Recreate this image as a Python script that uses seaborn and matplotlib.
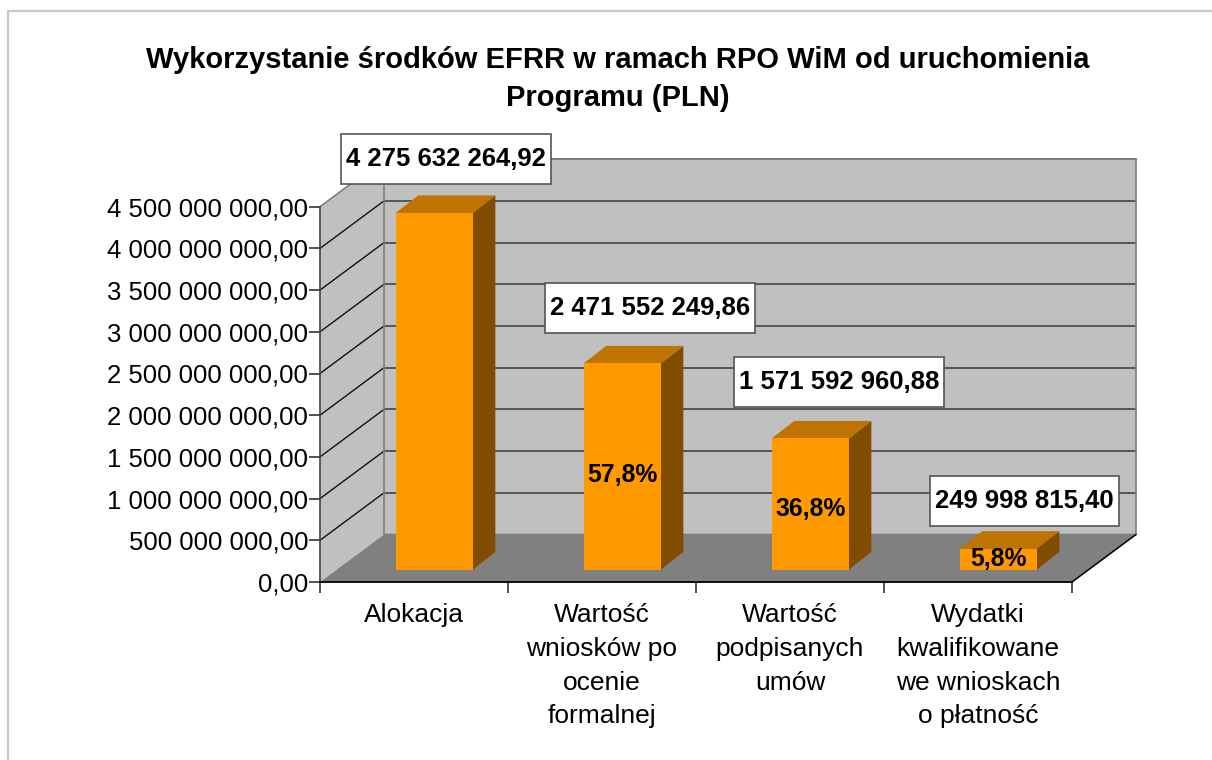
"""
Wykorzystanie srodkow EFRR - Excel style pseudo 3D column chart
"""

import matplotlib
matplotlib.use("Agg")
import matplotlib.pyplot as plt
from matplotlib.patches import Polygon, Rectangle
import seaborn as sns

# ── Data ─────────────────────────────────────────────────
CATEGORIES = ["Alokacja", "Wartość\nwniosków po\nocenie\nformalnej",
              "Wartość\npodpisanych\numów", "Wydatki\nkwalifikowane\nwe wnioskach\no płatność"]
VALUES = [4275632264.92, 2471552249.86, 1571592960.88, 249998815.40]
VALUE_LABELS = ["4 275 632 264,92", "2 471 552 249,86", "1 571 592 960,88", "249 998 815,40"]
PERCENT_LABELS = ["", "57,8%", "36,8%", "5,8%"]
YTICKS = [0, 500000000, 1000000000, 1500000000, 2000000000,
          2500000000, 3000000000, 3500000000, 4000000000, 4500000000]
YTICK_LABELS = ["0,00", "500 000 000,00", "1 000 000 000,00", "1 500 000 000,00",
                "2 000 000 000,00", "2 500 000 000,00", "3 000 000 000,00",
                "3 500 000 000,00", "4 000 000 000,00", "4 500 000 000,00"]
TITLE = "Wykorzystanie środków EFRR w ramach RPO WiM od uruchomienia\nProgramu (PLN)"

# ── Layout (pixels) ──────────────────────────────────────
W, H = 1212, 760
X0, X1, Y0, YTOP = 320, 1072, 582, 206.7
WALL_DX, WALL_DY = 64, 47.5
BAR_SHIFT_X, BAR_SHIFT_Y = 20.3, 12.5
BAR_DX, BAR_DY = 22.5, 17.5
BOX_SHIFT = [(11.5, -54), (28, -55), (29, -56), (26, -47.5)]
PCT_SHIFT = [0, 9, 5, 0]

ORANGE, ORANGE_SIDE, ORANGE_TOP = "#FF9900", "#804D00", "#BF7300"
WALL, FLOOR, EDGE, GRID = "#C0C0C0", "#808080", "#808080", "#3A3A3A"

sns.set_theme(style="white")
plt.rcParams["font.family"] = ["Liberation Sans", "DejaVu Sans"]

fig = plt.figure(figsize=(W / 100, H / 100), dpi=100, facecolor="white")


def px_axes(left, right, top, bottom):
    return fig.add_axes([left / W, (H - bottom) / H, (right - left) / W, (bottom - top) / H])


bg = fig.add_axes([0, 0, 1, 1], zorder=0)
ax = px_axes(X0, X1, YTOP, Y0)
ax.set_zorder(1)
bar_ax = px_axes(X0 + BAR_SHIFT_X, X1 + BAR_SHIFT_X, YTOP - BAR_SHIFT_Y, Y0 - BAR_SHIFT_Y)
bar_ax.set_zorder(2)
top = fig.add_axes([0, 0, 1, 1], zorder=3)
for a in (bg, top):
    a.set_xlim(0, W)
    a.set_ylim(H, 0)
    a.axis("off")

# ── Axis with ticks ──────────────────────────────────────
ax.patch.set_alpha(0)
ax.set_xlim(-0.5, 3.5)
ax.set_ylim(0, YTICKS[-1])
ax.set_yticks(YTICKS, YTICK_LABELS, fontsize=18.5, color="black")
ax.set_xticks([-0.5, 0.5, 1.5, 2.5, 3.5], [""] * 5)
ax.set_xticks(range(len(CATEGORIES)), CATEGORIES, minor=True, fontsize=19, color="black",
              linespacing=1.52)
ax.tick_params(axis="y", length=8, width=1.2, color="#333333", pad=0.5, left=True)
ax.tick_params(axis="x", which="major", length=8, width=1.2, color="#333333", bottom=True)
ax.tick_params(axis="x", which="minor", length=0, pad=15)
for side in ("top", "right"):
    ax.spines[side].set_visible(False)
ax.spines["left"].set_color("#444444")
ax.spines["left"].set_linewidth(1.2)
ax.spines["bottom"].set_color("black")
ax.spines["bottom"].set_linewidth(1.3)


# ── Walls, floor, grid ───────────────────────────────────
def y_px(v):
    return H - ax.transData.transform((0, v))[1]


bg.add_patch(Polygon([(X0, Y0), (X0, YTOP), (X0 + WALL_DX, YTOP - WALL_DY), (X0 + WALL_DX, Y0 - WALL_DY)],
                     facecolor=WALL, edgecolor="none"))
bg.add_patch(Rectangle((X0 + WALL_DX, YTOP - WALL_DY), X1 - X0, Y0 - YTOP,
                       facecolor=WALL, edgecolor="none"))
bg.add_patch(Polygon([(X0, Y0), (X0 + WALL_DX, Y0 - WALL_DY), (X1 + WALL_DX, Y0 - WALL_DY), (X1, Y0)],
                     facecolor=FLOOR, edgecolor="none"))
for v in YTICKS[1:-1]:
    y = y_px(v)
    bg.plot([X0, X0 + WALL_DX], [y, y - WALL_DY], color="#111111", lw=1)
    bg.plot([X0 + WALL_DX, X1 + WALL_DX], [y - WALL_DY, y - WALL_DY], color=GRID, lw=1.1)
xb, yb = X0 + WALL_DX, Y0 - WALL_DY
bg.plot([X0, xb, xb + X1 - X0, xb + X1 - X0, xb, xb, xb + X1 - X0],
        [YTOP, YTOP - WALL_DY, YTOP - WALL_DY, yb, yb, YTOP - WALL_DY, YTOP - WALL_DY],
        color=EDGE, lw=1.2, solid_joinstyle="miter")
bg.plot([X1, X1 + WALL_DX], [Y0, yb], color="black", lw=1.1)

# outer chart frame
bg.plot([8, 8, W], [H, 11, 11], color="#C8C8C8", lw=1.6)

# ── Bars ─────────────────────────────────────────────────
sns.barplot(x=CATEGORIES, y=VALUES, color=ORANGE, saturation=1, width=0.41, ax=bar_ax,
            edgecolor="none", linewidth=0)
bar_ax.set_xlim(-0.5, 3.5)
bar_ax.set_ylim(0, YTICKS[-1])
bar_ax.axis("off")
fig.canvas.draw()

for i, bar in enumerate(bar_ax.patches):
    (xl, yt) = bar_ax.transData.transform((bar.get_x(), bar.get_height()))
    (xr, yz) = bar_ax.transData.transform((bar.get_x() + bar.get_width(), 0))
    yt, yz = H - yt, H - yz
    bg.add_patch(Polygon([(xr, yz), (xr, yt), (xr + BAR_DX, yt - BAR_DY), (xr + BAR_DX, yz - BAR_DY)],
                         facecolor=ORANGE_SIDE, edgecolor="none", zorder=5))
    bg.add_patch(Polygon([(xl, yt), (xr, yt), (xr + BAR_DX, yt - BAR_DY), (xl + BAR_DX, yt - BAR_DY)],
                         facecolor=ORANGE_TOP, edgecolor="none", zorder=5))

    cx = (xl + xr) / 2
    if PERCENT_LABELS[i]:
        top.text(cx, (yt + yz) / 2 + PCT_SHIFT[i], PERCENT_LABELS[i], ha="center", va="center",
                 fontsize=17.8, fontweight="bold", color="black")

    bx, by = cx + BOX_SHIFT[i][0], yt + BOX_SHIFT[i][1]
    label = top.text(bx, by, VALUE_LABELS[i], ha="center", va="center", fontsize=18.5,
                     fontweight="bold", color="black", zorder=6)
    ext = label.get_window_extent(fig.canvas.get_renderer())
    top.add_patch(Rectangle((bx - ext.width / 2 - 5, by - 25), ext.width + 10, 50,
                            facecolor="white", edgecolor="#555555", lw=1.2, zorder=5))

# ── Title ────────────────────────────────────────────────
top.text(617.5, 79, TITLE, ha="center", va="center", fontsize=21, fontweight="bold",
         color="black", linespacing=1.41)

fig.savefig("out.png", dpi=100)
plt.close()
